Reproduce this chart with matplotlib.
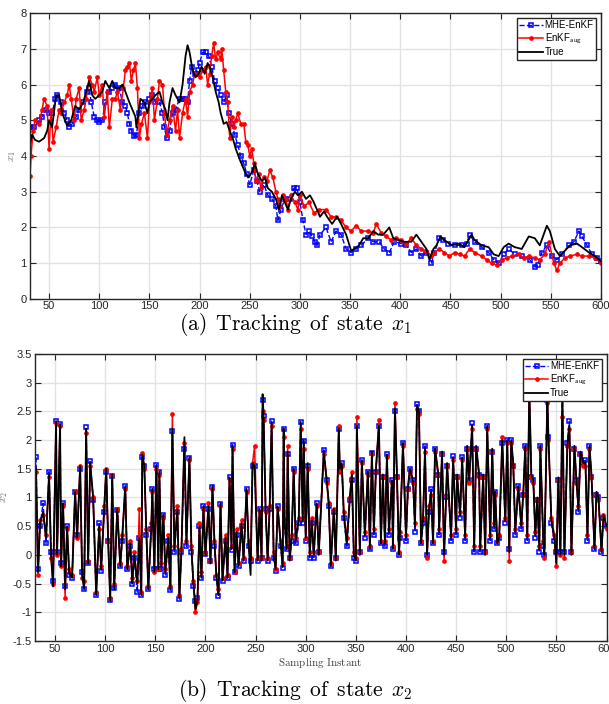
import numpy as np
import matplotlib
matplotlib.use('Agg')
import matplotlib.pyplot as plt
from matplotlib.ticker import FuncFormatter

plt.rcParams['font.family'] = ['Liberation Sans', 'DejaVu Sans']
plt.rcParams['mathtext.fontset'] = 'cm'
plt.rcParams['axes.unicode_minus'] = False

# ---- state x1 : (sampling instant, value) pairs ----
x1_true = np.array([
    31, 4.3, 33, 4.6, 36, 4.45, 40, 4.4, 45, 4.5, 48, 4.7, 50, 5.0, 53, 4.8, 57, 5.7, 60, 5.7,
    63, 5.2, 68, 4.85, 72, 5.0, 76, 5.4, 80, 5.3, 84, 5.5, 88, 5.9, 90, 6.1, 93, 5.7, 96, 5.6,
    100, 5.7, 103, 5.8, 106, 6.1, 110, 5.9, 113, 6.1, 116, 5.9, 120, 5.9, 123, 6.0, 126, 5.8, 130, 5.5,
    133, 5.3, 136, 5.1, 137, 4.8, 141, 5.6, 145, 5.5, 148, 5.2, 150, 5.5, 153, 5.6, 156, 5.7, 160, 5.8,
    163, 5.5, 166, 5.3, 168, 5.0, 170, 5.5, 173, 5.9, 176, 5.7, 180, 5.5, 183, 6.0, 186, 6.8, 188, 7.1,
    190, 6.9, 193, 6.4, 196, 6.2, 199, 6.3, 202, 6.5, 205, 6.3, 208, 6.6, 210, 6.5, 213, 6.2, 216, 5.8,
    219, 5.5, 221, 5.2, 224, 4.9, 227, 4.95, 230, 4.7, 233, 4.5, 236, 4.2, 240, 3.9, 243, 3.7, 246, 3.5,
    249, 3.4, 253, 3.6, 255, 3.8, 258, 3.5, 262, 3.3, 265, 3.4, 268, 3.1, 272, 3.0, 276, 2.8, 279, 2.5,
    282, 2.9, 285, 2.7, 288, 2.5, 291, 2.8, 295, 3.0, 298, 2.9, 302, 3.0, 306, 2.8, 310, 2.9, 313, 2.75,
    317, 2.5, 320, 2.3, 324, 2.45, 327, 2.3, 332, 2.1, 337, 2.3, 341, 2.1, 346, 1.8, 351, 1.35, 354, 1.4,
    359, 1.5, 363, 1.7, 368, 1.7, 373, 1.9, 378, 1.8, 383, 1.8, 389, 2.0, 393, 1.7, 398, 1.65, 404, 1.6,
    411, 1.6, 416, 1.8, 421, 1.6, 426, 1.4, 429, 1.1, 433, 1.4, 436, 1.5, 440, 1.75, 444, 1.65, 451, 1.5,
    458, 1.55, 464, 1.45, 471, 1.8, 474, 1.65, 481, 1.5, 488, 1.45, 493, 1.25, 498, 1.2, 503, 1.45, 508, 1.55,
    514, 1.45, 521, 1.4, 528, 1.75, 534, 1.7, 539, 1.5, 546, 2.05, 549, 1.9, 554, 1.4, 559, 1.2, 564, 1.35,
    569, 1.5, 576, 1.55, 581, 1.45, 588, 1.3, 594, 1.2, 600, 1.05,
]).reshape(-1, 2)

x1_mhe = np.array([
    31, 4.8, 35, 4.8, 40, 5.0, 43, 5.1, 47, 5.3, 50, 5.2, 53, 5.2, 56, 5.6, 58, 5.7, 62, 5.5,
    65, 5.2, 68, 5.0, 70, 4.8, 73, 4.9, 77, 5.1, 80, 5.3, 84, 5.5, 88, 5.8, 90, 5.9, 92, 5.5,
    95, 5.1, 98, 5.0, 100, 4.95, 103, 5.0, 106, 5.5, 110, 5.8, 113, 5.9, 116, 6.0, 120, 5.9, 123, 5.5,
    126, 5.4, 128, 5.2, 130, 4.9, 132, 4.7, 135, 4.55, 137, 4.6, 140, 5.2, 143, 5.4, 146, 5.5, 150, 5.6,
    153, 5.7, 156, 5.5, 160, 5.5, 163, 5.2, 165, 4.8, 167, 4.5, 170, 4.7, 173, 5.2, 176, 5.3, 180, 5.6,
    183, 5.6, 186, 5.6, 188, 5.5, 190, 6.1, 192, 6.5, 195, 6.3, 198, 6.4, 200, 6.6, 203, 6.9, 206, 6.9,
    209, 6.8, 212, 6.5, 215, 6.1, 218, 5.9, 221, 5.7, 224, 5.5, 227, 5.7, 229, 5.2, 232, 4.9, 235, 4.6,
    238, 4.3, 241, 4.0, 244, 3.8, 247, 3.5, 250, 3.2, 254, 3.6, 257, 3.3, 260, 3.0, 264, 3.2, 268, 2.9,
    272, 2.8, 276, 2.6, 278, 2.2, 281, 2.5, 285, 2.8, 290, 2.8, 294, 3.1, 297, 3.1, 300, 2.7, 303, 2.2,
    306, 1.8, 309, 1.9, 312, 1.75, 315, 1.6, 317, 1.5, 320, 1.8, 326, 2.0, 331, 1.6, 336, 1.9, 341, 1.8,
    346, 1.4, 351, 1.3, 356, 1.4, 361, 1.5, 368, 1.7, 373, 1.6, 379, 1.6, 384, 1.4, 389, 1.3, 394, 1.6,
    401, 1.55, 406, 1.5, 411, 1.3, 416, 1.4, 421, 1.2, 426, 1.3, 431, 1.0, 434, 1.3, 439, 1.7, 443, 1.65,
    448, 1.55, 454, 1.5, 461, 1.5, 466, 1.55, 469, 1.8, 474, 1.6, 481, 1.45, 488, 1.3, 493, 1.1, 498, 1.0,
    503, 1.25, 508, 1.4, 514, 1.25, 521, 1.2, 529, 1.1, 534, 0.9, 537, 0.95, 541, 1.3, 546, 1.5, 551, 1.2,
    556, 1.1, 561, 1.25, 568, 1.5, 573, 1.6, 578, 1.9, 581, 1.75, 586, 1.5, 591, 1.25, 596, 1.15, 600, 1.05,
]).reshape(-1, 2)

x1_enkf = np.array([
    31, 3.45, 32, 4.0, 34, 4.7, 36, 5.0, 40, 4.9, 43, 5.3, 45, 5.6, 48, 5.4, 50, 4.2, 52, 5.3,
    54, 4.4, 57, 4.8, 60, 5.3, 62, 5.2, 65, 5.5, 68, 5.7, 70, 6.0, 72, 5.6, 75, 5.0, 77, 5.6,
    80, 5.9, 82, 5.0, 85, 5.3, 87, 5.6, 90, 6.2, 93, 6.0, 95, 5.8, 98, 6.2, 100, 5.7, 103, 6.0,
    105, 5.1, 108, 5.8, 110, 4.8, 113, 5.6, 116, 5.6, 118, 5.8, 121, 5.3, 124, 5.9, 126, 6.4, 128, 6.5,
    130, 6.6, 132, 6.1, 134, 6.4, 136, 6.6, 138, 5.9, 140, 4.5, 142, 4.9, 145, 5.2, 148, 4.5, 150, 5.5,
    153, 5.9, 155, 5.0, 158, 5.6, 160, 6.1, 163, 6.0, 165, 5.2, 167, 4.6, 170, 5.0, 173, 5.4, 176, 4.7,
    178, 5.3, 180, 4.5, 183, 5.2, 186, 5.6, 188, 5.1, 190, 5.8, 193, 6.0, 195, 6.3, 198, 6.3, 200, 6.2,
    203, 6.4, 206, 6.5, 208, 6.0, 210, 6.3, 212, 6.8, 214, 7.15, 216, 6.7, 218, 6.9, 221, 6.7, 222, 7.0,
    224, 6.4, 226, 5.8, 228, 5.5, 230, 4.5, 232, 5.1, 234, 4.8, 236, 5.0, 238, 5.2, 241, 4.9, 244, 4.9,
    246, 4.4, 248, 4.3, 250, 4.0, 252, 4.2, 254, 3.8, 256, 3.3, 259, 3.5, 261, 3.1, 264, 3.4, 267, 3.3,
    270, 3.6, 273, 3.4, 276, 3.0, 278, 2.8, 280, 2.6, 283, 2.9, 286, 2.8, 288, 2.5, 291, 2.9, 295, 2.7,
    298, 2.5, 300, 2.9, 304, 2.6, 309, 2.7, 314, 2.4, 319, 2.5, 326, 2.5, 331, 2.3, 336, 2.3, 341, 2.2,
    346, 2.0, 351, 1.9, 356, 2.05, 361, 1.9, 368, 1.9, 373, 1.85, 376, 2.1, 381, 1.85, 386, 1.75, 391, 1.65,
    396, 1.7, 401, 1.65, 406, 1.55, 411, 1.7, 416, 1.5, 421, 1.4, 426, 1.35, 431, 1.2, 434, 1.3, 439, 1.4,
    444, 1.3, 449, 1.2, 454, 1.3, 459, 1.25, 464, 1.2, 469, 1.4, 474, 1.3, 481, 1.2, 486, 1.1, 491, 1.0,
    496, 0.95, 501, 1.1, 506, 1.15, 511, 1.2, 518, 1.25, 523, 1.15, 528, 1.2, 534, 1.15, 539, 1.1, 544, 1.25,
    548, 1.6, 553, 1.0, 556, 0.8, 559, 1.0, 564, 1.15, 569, 1.2, 576, 1.25, 581, 1.2, 588, 1.2, 594, 1.15,
    600, 1.0,
]).reshape(-1, 2)

# ---- state x2 ----
t2 = [
    31, 33, 35, 38, 41, 44, 46, 48, 51, 52,
    55, 56, 58, 60, 62, 64, 67, 70, 72, 75,
    77, 79, 81, 83, 85, 88, 91, 94, 96, 99,
    101, 103, 105, 107, 109, 112, 115, 117, 120, 122,
    125, 127, 129, 132, 134, 136, 137, 139, 141, 143,
    146, 147, 149, 151, 153, 154, 156, 158, 160, 163,
    165, 167, 169, 172, 174, 176, 179, 181, 184, 186,
    188, 190, 192, 194, 196, 198, 200, 203, 205, 207,
    209, 211, 213, 215, 217, 220, 222, 224, 226, 227,
    229, 231, 233, 236, 238, 241, 243, 245, 247, 249,
    252, 254, 256, 257, 258, 260, 262, 264, 266, 268,
    270, 272, 275, 277, 278, 279, 281, 282, 284, 286,
    288, 290, 293, 295, 297, 298, 300, 302, 304, 306,
    308, 311, 313, 318, 321, 323, 325, 328, 330, 333,
    334, 336, 338, 341, 344, 346, 348, 350, 351, 354,
    356, 359, 362, 364, 366, 368, 370, 373, 375, 377,
    379, 381, 383, 386, 387, 389, 391, 393, 394, 397,
    400, 402, 404, 407, 409, 411, 413, 415, 417, 419,
    421, 423, 425, 427, 429, 432, 433, 436, 438, 440,
    441, 445, 447, 450, 451, 454, 456, 459, 461, 463,
    466, 468, 470, 473, 474, 477, 479, 481, 484, 486,
    488, 489, 491, 493, 496, 499, 501, 503, 505, 507,
    509, 512, 515, 517, 519, 521, 523, 525, 527, 529,
    531, 533, 534, 537, 538, 541, 542, 545, 548, 550,
    552, 554, 556, 558, 561, 563, 565, 568, 570, 572,
    574, 577, 579, 581, 583, 585, 588, 590, 592, 595,
    597, 600,
]

x2_true = [
    1.5, -0.3, 0.55, 0.75, 0.3, 1.4, 0.0, -0.55, 2.33, 0.0,
    2.28, -0.2, 0.9, -0.6, 0.5, -0.3, -0.4, 1.1, 0.3, 1.55,
    -0.35, -0.6, 2.2, -0.15, 1.6, 1.0, -0.7, 0.5, -0.25, 0.8,
    1.5, 0.2, -0.8, 1.4, -0.6, 0.8, -0.2, 0.3, 1.2, -0.25,
    0.2, -0.5, 0.0, -0.5, 0.3, -0.7, 1.75, 1.55, 0.4, -0.6,
    0.5, 1.15, -0.3, 1.55, -0.25, 1.45, -0.2, 0.7, -0.3, 0.3,
    -0.6, 2.2, 0.1, 0.8, -0.75, 0.05, 2.05, 0.2, 1.7, 0.1,
    -0.5, -0.95, -0.8, 0.5, -0.4, 0.85, 0.0, 0.85, -0.15, 1.2,
    0.2, -0.4, -0.7, 0.9, -0.45, 0.3, -0.4, 1.35, 0.1, 1.9,
    -0.3, 0.4, -0.2, 0.55, -0.1, 1.15, 0.2, -0.35, 1.6, 1.55,
    -0.1, 0.8, -0.1, 2.8, 2.4, 0.8, -0.1, 0.8, 2.3, 0.0,
    -0.25, 0.85, 0.2, -0.2, 2.2, 0.55, 0.1, 1.8, -0.1, 0.3,
    1.5, 0.25, 0.6, 2.3, 0.6, 2.0, 0.3, 1.6, 0.0, 0.6,
    0.0, 0.9, 0.0, 1.8, 1.3, 0.9, -0.2, 0.8, -0.1, 2.2,
    1.5, 1.6, 0.7, 0.2, 1.0, 1.4, 0.0, -0.1, 2.25, 0.0,
    1.65, 0.35, 1.45, 0.1, 1.8, 0.4, 1.5, 2.25, 0.2, 1.4,
    0.2, 1.75, 0.4, 1.3, 0.1, 2.55, 1.4, 0.0, 0.35, 1.95,
    0.3, 1.2, 1.5, 1.3, 0.5, 2.6, 2.5, 0.2, 0.6, 1.85,
    0.0, 0.8, 1.1, 0.2, 1.85, 1.45, 0.4, 1.8, 0.0, 1.0,
    1.6, 0.3, 1.7, 0.4, 1.4, 0.7, 1.7, 0.3, 1.9, 1.3,
    2.25, 0.1, 1.9, 1.4, 0.1, 1.4, 0.0, 2.25, 0.3, 1.85,
    0.5, 1.1, 0.2, 0.3, 2.0, 0.6, 2.0, 0.05, 2.0, 1.6,
    0.4, 1.2, 0.5, 1.1, 1.9, 0.3, 2.9, 1.4, 1.3, 0.35,
    1.0, 0.1, 1.9, 0.2, 0.0, 2.75, 2.1, 0.6, 0.3, -0.15,
    1.35, 0.0, 2.9, 0.0, 1.95, 2.25, 0.0, 1.9, 1.3, 0.8,
    1.8, 1.6, 1.6, 0.3, 1.9, 1.4, 0.1, 1.1, 1.0, 0.05,
    0.7, 0.5,
]

x2_mhe = [
    1.7, -0.25, 0.5, 0.9, 0.2, 1.45, 0.05, -0.45, 2.33, 0.05,
    2.28, -0.15, 0.9, -0.55, 0.5, -0.35, -0.4, 1.1, 0.35, 1.5,
    -0.3, -0.6, 2.22, -0.15, 1.63, 0.95, -0.7, 0.55, -0.28, 0.75,
    1.45, 0.25, -0.78, 1.38, -0.58, 0.78, -0.2, 0.25, 1.2, -0.25,
    0.15, -0.5, -0.05, -0.65, 0.3, -0.7, 1.7, 1.55, 0.35, -0.6,
    0.45, 1.15, -0.25, 1.57, -0.25, 1.45, -0.25, 0.7, -0.35, 0.25,
    -0.62, 2.15, 0.05, 0.75, -0.77, 0.05, 1.85, 0.15, 1.68, 0.05,
    -0.55, -0.8, -0.75, 0.5, -0.4, 0.85, 0.02, 0.8, -0.1, 1.18,
    0.15, -0.4, -0.72, 0.88, -0.45, 0.25, -0.4, 1.35, 0.08, 1.92,
    -0.3, 0.35, -0.2, 0.5, -0.1, 1.15, 0.15, -0.1, 1.55, 1.55,
    -0.1, 0.8, -0.05, 2.7, 2.42, 0.8, -0.1, 0.8, 2.33, -0.05,
    -0.28, 0.85, 0.15, -0.22, 2.2, 0.5, 0.1, 1.75, -0.05, 0.25,
    1.5, 0.2, 0.55, 2.32, 0.55, 1.98, 0.25, 1.55, -0.05, 0.55,
    -0.05, 0.9, 0.05, 1.83, 1.3, 0.85, -0.2, 0.75, -0.05, 2.2,
    1.5, 1.6, 0.65, 0.15, 0.95, 1.3, -0.05, -0.1, 2.25, 0.05,
    1.65, 0.3, 1.45, 0.1, 1.78, 0.35, 1.45, 2.25, 0.2, 1.35,
    0.15, 1.75, 0.35, 1.3, 0.1, 2.5, 1.35, 0.0, 0.3, 1.95,
    0.25, 1.15, 1.5, 1.3, 0.4, 2.62, 2.5, 0.2, 0.55, 1.9,
    0.0, 0.75, 1.15, 0.2, 1.85, 1.4, 0.35, 1.75, 0.05, 1.0,
    1.55, 0.25, 1.72, 0.35, 1.35, 0.65, 1.7, 0.25, 1.85, 1.3,
    2.3, 0.05, 1.85, 1.4, 0.05, 1.35, 0.05, 2.25, 0.25, 1.8,
    0.45, 1.1, 0.2, 0.3, 1.95, 0.55, 2.0, 0.1, 2.0, 1.55,
    0.35, 1.2, 0.45, 1.05, 1.9, 0.25, 2.8, 1.35, 1.3, 0.3,
    0.95, 0.05, 1.9, 0.15, 0.0, 2.7, 2.05, 0.55, 0.25, 0.05,
    1.3, 0.05, 2.8, 0.05, 1.95, 2.33, 0.05, 1.85, 1.3, 0.75,
    1.75, 1.6, 1.65, 0.25, 1.9, 1.35, 0.1, 1.05, 1.0, 0.05,
    0.65, 0.5,
]

x2_enkf = [
    1.45, -0.35, 0.6, 0.7, 0.35, 1.35, -0.05, -0.5, 2.3, 0.0,
    2.25, -0.2, 0.85, -0.75, 0.45, -0.25, -0.35, 1.1, 0.3, 1.55,
    -0.4, -0.45, 2.12, -0.1, 1.55, 1.0, -0.65, 0.45, -0.2, 0.85,
    1.5, 0.25, -0.75, 1.4, -0.5, 0.8, -0.15, 0.35, 1.15, -0.2,
    0.25, -0.4, 0.05, -0.45, 0.8, -0.65, 1.78, 1.5, 0.45, -0.55,
    0.55, 1.1, -0.3, 1.5, -0.25, 1.4, -0.15, 0.65, -0.25, 0.35,
    -0.55, 2.45, 0.15, 0.85, -0.7, 0.1, 1.95, 0.25, 1.65, 0.15,
    -0.45, -1.0, -0.82, 0.55, -0.3, 0.8, 0.05, 0.9, -0.1, 1.15,
    0.25, -0.35, -0.6, 0.85, -0.4, 0.35, -0.35, 1.3, 0.15, 1.85,
    -0.3, 0.45, -0.15, 0.6, -0.05, 1.1, 0.25, -0.05, 1.6, 1.9,
    -0.05, 0.75, -0.05, 2.5, 2.35, 0.75, -0.05, 0.85, 2.25, 0.05,
    -0.25, 0.8, 0.25, -0.15, 2.05, 0.6, 0.15, 1.9, -0.05, 0.35,
    1.45, 0.3, 0.65, 2.2, 0.65, 1.85, 0.3, 1.5, 0.05, 0.65,
    0.05, 0.85, 0.05, 1.75, 1.25, 0.9, -0.15, 0.8, -0.05, 2.25,
    1.45, 1.55, 0.75, 0.3, 1.0, 1.45, 0.05, -0.05, 2.4, 0.05,
    1.6, 0.4, 1.4, 0.15, 1.75, 0.45, 1.45, 2.35, 0.25, 1.35,
    0.25, 1.7, 0.45, 1.25, 0.15, 2.65, 1.35, 0.05, 0.4, 1.9,
    0.35, 1.15, 1.45, 1.25, 0.55, 2.55, 2.45, 0.25, 0.65, 1.8,
    -0.05, 0.85, 1.05, 0.25, 1.8, 1.4, 0.45, 1.75, -0.1, 1.05,
    1.55, 0.35, 1.65, 0.45, 1.35, 0.75, 1.65, 0.35, 1.85, 1.25,
    2.2, 0.15, 1.85, 1.35, 0.15, 1.35, 0.05, 2.2, 0.35, 1.8,
    0.55, 1.05, 0.25, 0.35, 2.05, 0.65, 1.95, -0.1, 1.95, 1.55,
    0.45, 1.15, 0.55, 1.05, 1.85, 0.35, 2.85, 1.35, 1.25, 0.4,
    0.95, 0.15, 1.85, 0.25, -0.05, 2.65, 2.0, 0.65, 0.35, -0.2,
    1.3, 0.0, 2.4, -0.05, 1.9, 2.2, 0.05, 1.85, 1.25, 0.85,
    1.75, 1.55, 1.55, 0.35, 1.85, 1.35, 0.15, 1.05, 0.95, 0.1,
    0.7, 0.45,
]

labels = ['MHE-EnKF', r'EnKF$_{\mathsf{aug}}$', 'True']
xticks = list(range(50, 601, 50))

dark = '#262626'


def draw(ax, mhe, enkf, true):
    ax.plot(mhe[0], mhe[1], '--', color='#0000ff', lw=1.0, marker='s', ms=3.2,
            mfc='none', mew=1.1, label=labels[0])
    ax.plot(enkf[0], enkf[1], '-', color='#ff0000', lw=1.1, marker='o', ms=3.4,
            mew=0, label=labels[1])
    ax.plot(true[0], true[1], '-', color='k', lw=1.3, label=labels[2])


def style(ax):
    ax.grid(True, color='#e3e3e3', lw=1.0)
    ax.set_axisbelow(True)
    ax.set_xticks(xticks)
    ax.tick_params(direction='in', length=4, width=0.8, top=True, right=True,
                   labelsize=8, colors=dark, pad=2.5)
    for s in ax.spines.values():
        s.set_linewidth(1.0)
        s.set_color(dark)
    leg = ax.legend(loc='upper right', fontsize=7, handlelength=2.4, handletextpad=0.2,
                    borderpad=0.25, labelspacing=0.15, borderaxespad=0.5,
                    fancybox=False, framealpha=1, edgecolor=dark)
    leg.get_frame().set_linewidth(1.0)


fig = plt.figure(figsize=(6.09, 7.04), dpi=100)
ax1 = fig.add_axes([0.0493, 0.5753, 0.9376, 0.4062])
ax2 = fig.add_axes([0.0575, 0.0895, 0.9384, 0.4077])

draw(ax1, x1_mhe.T, x1_enkf.T, x1_true.T)
ax1.set_xlim(31, 600)
ax1.set_ylim(0, 8)
ax1.set_yticks(range(0, 9))
ax1.set_ylabel(r'$x_1$', fontsize=8, color='#707070', labelpad=2)
style(ax1)
ax1.tick_params(axis='x', pad=1.5)

draw(ax2, (t2, x2_mhe), (t2, x2_enkf), (t2, x2_true))
ax2.set_xlim(30, 600)
ax2.set_ylim(-1.5, 3.5)
ax2.set_yticks(np.arange(-1.5, 3.51, 0.5))
ax2.yaxis.set_major_formatter(FuncFormatter(lambda v, p: '%g' % v))
ax2.set_ylabel(r'$x_2$', fontsize=8, color='#707070', labelpad=2)
ax2.set_xlabel(r'$\mathrm{Sampling\ Instant}$', fontsize=8, color='#404040', labelpad=1)
style(ax2)

cap = r'$\mathrm{(%s)\ \,Tracking\ \,of\ \,state\ \,}x_%d$'
fig.text(0.485, 1 - 325 / 704, cap % ('a', 1), ha='center', va='center', fontsize=15.5)
fig.text(0.485, 1 - 690 / 704, cap % ('b', 2), ha='center', va='center', fontsize=15.5)

fig.savefig('out.png', dpi=100)
